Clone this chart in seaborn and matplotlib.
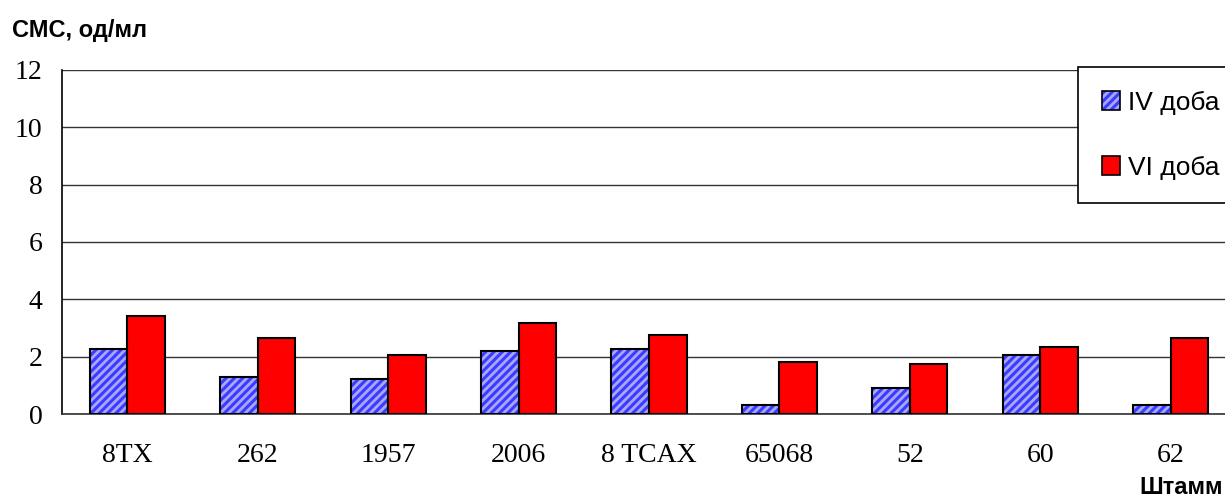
import matplotlib
matplotlib.use("Agg")
import matplotlib.pyplot as plt
from matplotlib.patches import Patch, Rectangle
from matplotlib.legend_handler import HandlerTuple
import seaborn as sns
import pandas as pd

strains = ["8TX", "262", "1957", "2006", "8 TCAX", "65068", "52", "60", "62"]
day4 = [2.26, 1.29, 1.23, 2.20, 2.26, 0.33, 0.91, 2.06, 0.33]
day6 = [3.42, 2.64, 2.06, 3.17, 2.77, 1.80, 1.74, 2.33, 2.64]
series = ["IV доба", "VI доба"]
yticks = [0, 2, 4, 6, 8, 10, 12]

df = pd.DataFrame({
    "strain": strains * 2,
    "value": day4 + day6,
    "day": [series[0]] * len(strains) + [series[1]] * len(strains),
})

sns.set_style("white")
plt.rcParams["font.family"] = ["Liberation Serif", "DejaVu Serif"]
plt.rcParams["text.color"] = "black"
plt.rcParams["xtick.color"] = "black"
plt.rcParams["ytick.color"] = "black"
plt.rcParams["hatch.linewidth"] = 2.0

fig = plt.figure(figsize=(12.25, 5.01), dpi=100)
ax = fig.add_axes([62 / 1225, 1 - 414 / 501, 1174 / 1225, 344 / 501])

blue = "#3c3cff"
stripe = "#a8a8ff"
red = "#ff0000"

sns.barplot(data=df, x="strain", y="value", hue="day", order=strains,
            hue_order=series, palette=[blue, red], width=0.575,
            saturation=1, edgecolor="black", linewidth=1.5, ax=ax,
            legend=False, zorder=3)

# hatch the first series, keep a black border on top
for bar in ax.containers[0]:
    bar.set_hatch("////")
    bar.set_edgecolor(stripe)
    bar.set_linewidth(0)
    ax.add_patch(Rectangle(bar.get_xy(), bar.get_width(), bar.get_height(),
                           fill=False, edgecolor="black", linewidth=1.5, zorder=4))

ax.set_ylim(0, 12)
ax.set_xlim(-0.5, len(strains) - 0.5)
ax.set_yticks(yticks)
ax.set_yticklabels([str(t) for t in yticks], fontsize=20)
ax.yaxis.grid(True, color="#333333", linewidth=1)
ax.set_axisbelow(True)
for s in ["top", "right"]:
    ax.spines[s].set_visible(False)
ax.spines["left"].set_color("black")
ax.spines["bottom"].set_color("#333333")
ax.spines["left"].set_linewidth(1.2)
ax.spines["bottom"].set_linewidth(1.2)

# category labels centred, separator ticks between categories
ax.set_xticks(range(len(strains)))
ax.set_xticklabels(strains, fontsize=20)
ax.tick_params(axis="x", length=0, pad=21)
ax.set_xticks([i - 0.5 for i in range(len(strains) + 1)], minor=True)
ax.tick_params(axis="x", which="minor", length=10, width=1, color="#333333", direction="out")
ax.tick_params(axis="y", length=5, width=1, color="black", direction="out", pad=9)
ax.set_xlabel("")
ax.set_ylabel("")

fig.text(12 / 1225, 1 - 31 / 501, "СМС, од/мл", fontsize=17, fontweight="bold",
         family="Liberation Sans", va="center", ha="left")
fig.text(1223 / 1225, 1 - 488 / 501, "Штамм", fontsize=17, fontweight="bold",
         family="Liberation Sans", va="center", ha="right")

h1 = (Patch(facecolor=blue, edgecolor=stripe, hatch="////", linewidth=0),
      Patch(facecolor="none", edgecolor="black", linewidth=1.2))
h2 = Patch(facecolor=red, edgecolor="black", linewidth=1.2)
leg = fig.legend([h1, h2], series, loc="upper left",
                 bbox_to_anchor=(1078 / 1225, 1 - 67 / 501),
                 handler_map={tuple: HandlerTuple(ndivide=1)},
                 prop={"family": "Liberation Sans", "size": 19},
                 frameon=True, fancybox=False, framealpha=1, edgecolor="black",
                 handlelength=0.7, handleheight=0.7, handletextpad=0.3,
                 labelspacing=1.55, borderpad=0.9, borderaxespad=0)
leg.get_frame().set_linewidth(1.2)

fig.savefig("out.png", dpi=100)
